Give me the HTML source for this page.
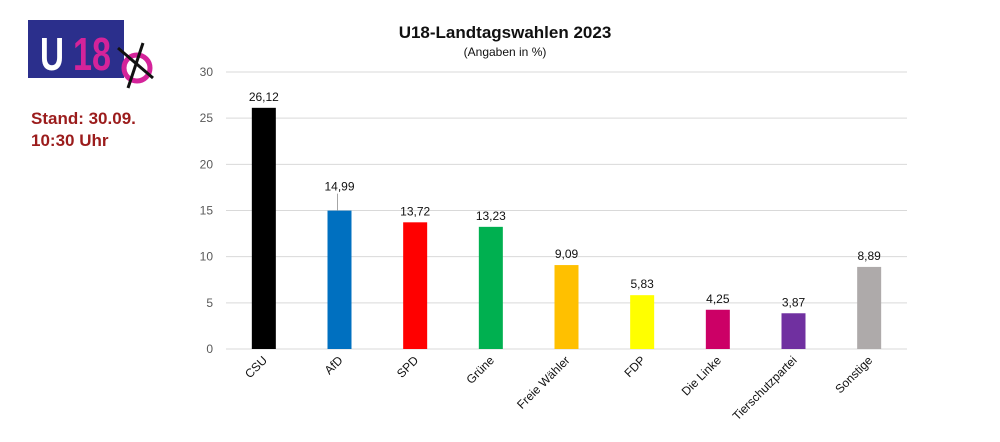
<!DOCTYPE html>
<html><head><meta charset="utf-8"><style>
body{margin:0;background:#fff;width:1000px;height:437px;overflow:hidden;font-family:"Liberation Sans",sans-serif}
</style></head><body>
<svg width="1000" height="437">
<g>
<rect x="28" y="20" width="96" height="58" fill="#2b2f8c"/>
<text x="40" y="70" font-size="46" font-weight="bold" fill="#fff" textLength="24" lengthAdjust="spacingAndGlyphs">U</text>
<text x="73" y="70" font-size="46" font-weight="bold" fill="#d4239a" textLength="38" lengthAdjust="spacingAndGlyphs">18</text>
<circle cx="137" cy="68" r="13" fill="none" stroke="#d4239a" stroke-width="5"/>
<line x1="118" y1="48" x2="153" y2="78" stroke="#111" stroke-width="3"/>
<line x1="143" y1="43" x2="128" y2="88" stroke="#111" stroke-width="3"/>
</g>
<text x="31" y="124" font-size="17" font-weight="bold" fill="#9b1c1c">Stand: 30.09.</text>
<text x="31" y="146" font-size="17" font-weight="bold" fill="#9b1c1c">10:30 Uhr</text>
<text x="505" y="38" font-size="17" font-weight="bold" text-anchor="middle" fill="#111">U18-Landtagswahlen 2023</text>
<text x="505" y="56" font-size="12" text-anchor="middle" fill="#111">(Angaben in %)</text>
<g id="plot"></g>
</svg>
<script>
const categories=["CSU","AfD","SPD","Grüne","Freie Wähler","FDP","Die Linke","Tierschutzpartei","Sonstige"];
const values=[26.12,14.99,13.72,13.23,9.09,5.83,4.25,3.87,8.89];
const valueLabels=["26,12","14,99","13,72","13,23","9,09","5,83","4,25","3,87","8,89"];
const colors=["#000000","#0070c0","#ff0000","#00b050","#ffc000","#ffff00","#cc0066","#7030a0","#aeaaaa"];
const ticks=[0,5,10,15,20,25,30];
const NS="http://www.w3.org/2000/svg";
const g=document.getElementById('plot');
const x0=226,x1=907,yBase=349,yTop=72,yMax=30;
const step=(x1-x0)/categories.length;
const y=v=>yBase-(v/yMax)*(yBase-yTop);
const xc=i=>x0+step*(i+0.5);
function mk(t,a){const e=document.createElementNS(NS,t);for(const k in a)e.setAttribute(k,a[k]);g.appendChild(e);return e;}
ticks.forEach(t=>{
 const l=mk('line',{x1:x0,x2:x1,y1:y(t),y2:y(t),stroke:'#d9d9d9','stroke-width':1});
 
 
 const tx=mk('text',{x:213,y:y(t)+4,'font-size':12,fill:'#595959','text-anchor':'end'});
 tx.textContent=t;
 
 
});
values.forEach((v,i)=>{
 const b=mk('rect',{x:xc(i)-12,y:y(v),width:24,height:yBase-y(v),fill:colors[i]});
 
 
 const ly=i===1?y(v)-20:y(v)-7;
 if(i===1){const ln=mk('line',{x1:xc(i)-2,x2:xc(i)-2,y1:ly+3,y2:y(v),stroke:'#a6a6a6'});
  
  }
 const t=mk('text',{x:xc(i),y:ly,'font-size':12,fill:'#111','text-anchor':'middle'});
 t.textContent=valueLabels[i];
 
 
 const c=mk('text',{x:xc(i)+4,y:yBase+12,'font-size':12,fill:'#111','text-anchor':'end',transform:`rotate(-45 ${xc(i)+4} ${yBase+12})`});
 c.textContent=categories[i];
 
 
});
</script>
</body></html>
